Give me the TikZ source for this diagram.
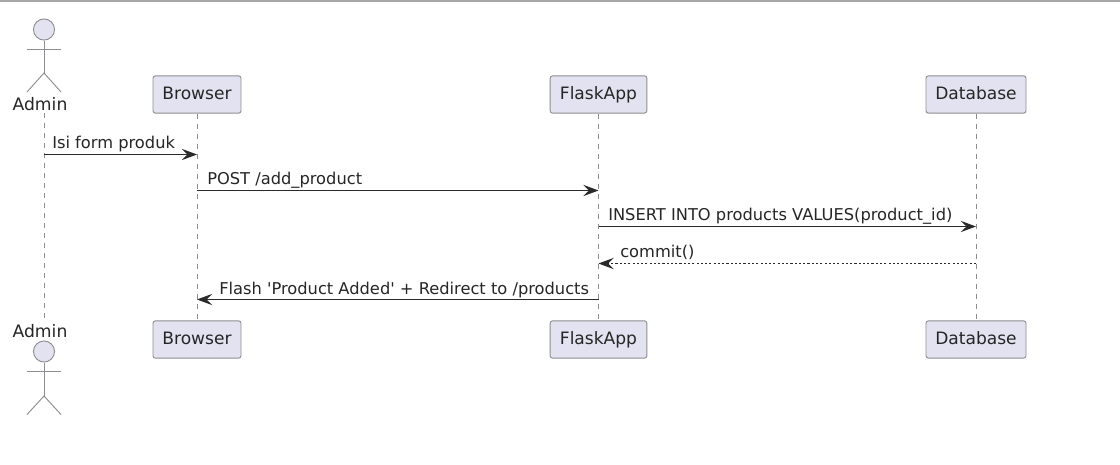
\documentclass[tikz,border=0pt]{standalone}
\usepackage{fontspec}
\setmainfont{DejaVu Sans}
\usetikzlibrary{arrows.meta, positioning}

\definecolor{partfill}{HTML}{E2E2F0}
\definecolor{partline}{HTML}{8E8E92}
\definecolor{msgline}{HTML}{2A2A2A}

\begin{document}
\begin{tikzpicture}[
    x=0.75pt, y=-0.75pt,
    box/.style={rectangle, draw=partline, fill=partfill, rounded corners=1.8pt, line width=0.7pt, align=center, minimum height=28pt, inner xsep=0pt, text height=9.5pt, text depth=2.6pt, font=\fontsize{12.8pt}{14pt}\selectfont, text=black!85},
    head/.style={circle, draw=partline, fill=partfill, line width=0.7pt, minimum size=15.8pt, inner sep=0pt},
    actorname/.style={inner sep=0pt, font=\fontsize{12.9pt}{14pt}\selectfont, text=black!85},
    stick/.style={draw=partline, line width=0.7pt},
    life/.style={draw=partline, line width=0.6pt, dash pattern=on 3.75pt off 3.75pt},
    msg/.style={inner sep=0pt, anchor=base west, font=\fontsize{12.2pt}{14pt}\selectfont, text=black!85},
    arrow/.style={draw=msgline, line width=0.75pt, -{Stealth[length=11.5pt, width=8.5pt, inset=4.4pt]}},
    reply/.style={arrow, dash pattern=on 1.6pt off 1.6pt}
]
\useasboundingbox (0,0) rectangle (1120,464);
\fill[white] (0,0) rectangle (1120,464);
\coordinate (tl) at (0,1);
\coordinate (tr) at (1120,1);
\draw[draw=black!35, line width=1.1pt] (tl) -- (tr);

% participants
\node[actorname] (adminTop) at (40,104) {Admin};
\node[actorname] (adminBot) at (40,331) {Admin};
\node[box, minimum width=66pt] (browserTop) at (197,94.5) {Browser};
\node[box, minimum width=72.5pt] (flaskTop) at (598.5,94.5) {FlaskApp};
\node[box, minimum width=75pt] (dbTop) at (976,94.5) {Database};
\node[box, minimum width=66pt] (browserBot) at (197,339.5) {Browser};
\node[box, minimum width=72.5pt] (flaskBot) at (598.5,339.5) {FlaskApp};
\node[box, minimum width=75pt] (dbBot) at (976,339.5) {Database};

% actor figures
\node[head] (headTop) at (44,29.5) {};
\node[head] (headBot) at (44,351.5) {};
\coordinate (hipTop) at (44,73);
\coordinate (hipBot) at (44,396);
\coordinate (lifeA) at (44,113);
\coordinate (lifeB) at (44,322);
\draw[stick] (headTop) -- (hipTop);
\draw[stick] (27,49.5) -- (61,49.5);
\draw[stick] (27,92) -- (hipTop) -- (61,92);
\draw[stick] (headBot) -- (hipBot);
\draw[stick] (27,371.5) -- (61,371.5);
\draw[stick] (27,414.5) -- (hipBot) -- (61,414.5);

% lifelines
\draw[life] (lifeA) -- (lifeB);
\draw[life] (browserTop) -- (browserBot);
\draw[life] (flaskTop) -- (flaskBot);
\draw[life] (dbTop) -- (dbBot);

% messages
\coordinate (m1) at (0,154.5);
\coordinate (m2) at (0,190.5);
\coordinate (m3) at (0,226.5);
\coordinate (m4) at (0,263.5);
\coordinate (m5) at (0,299.5);

\draw[arrow] (lifeA |- m1) -- (browserTop |- m1);
\draw[arrow] (browserTop |- m2) -- (flaskTop |- m2);
\draw[arrow] (flaskTop |- m3) -- (dbTop |- m3);
\draw[reply] (dbTop |- m4) -- (flaskTop |- m4);
\draw[arrow] (flaskTop |- m5) -- (browserTop |- m5);

\node[msg] (l1) at (52,148) {Isi form produk};
\node[msg] (l2) at (207,184) {POST /add\_product};
\node[msg] (l3) at (608,220) {INSERT INTO products VALUES(product\_id)};
\node[msg] (l4) at (620,257) {commit()};
\node[msg] (l5) at (219,294) {Flash \textquotesingle Product Added\textquotesingle{} + Redirect to /products};
\end{tikzpicture}
\end{document}
